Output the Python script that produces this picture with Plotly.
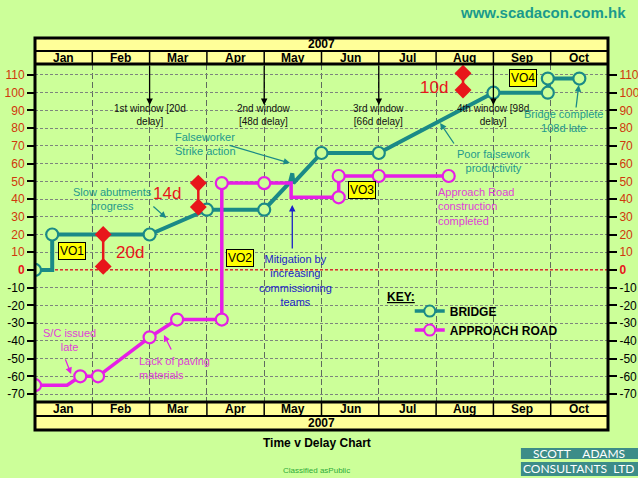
import plotly.graph_objects as go

# Categories / ticks
months = ["Jan", "Feb", "Mar", "Apr", "May", "Jun", "Jul", "Aug", "Sep", "Oct"]
year_label = "2007"
delay_ticks = list(range(-70, 111, 10))

# Bridge delay path (x = months from 1 Jan, y = days of delay), 1 = ringed point
bridge_x = [0, 0.3, 0.3, 2.0, 3.0, 4.0, 4.45, 4.49, 4.51, 5.0, 6.0, 8.0, 8.95, 8.95, 9.5]
bridge_y = [0, 0, 20, 20, 34, 34, 49.5, 54.5, 49, 66, 66, 100, 100, 108, 108]
bridge_ring = [1, 0, 1, 1, 1, 1, 0, 0, 0, 1, 1, 1, 1, 1, 1]

# Approach road delay path
road_x = [0, 0.56, 0.79, 1.1, 2.0, 2.48, 3.26, 3.26, 4.0, 4.47, 4.47, 5.3, 5.3, 6.0, 7.22]
road_y = [-65, -65, -60, -60, -38, -28, -28, 49, 49, 49, 41, 41, 53, 53, 53]
road_ring = [1, 0, 1, 1, 1, 1, 1, 1, 1, 0, 0, 1, 1, 1, 1]

# Delay gaps (red diamonds)
gap_x = [1.19, 2.85, 7.47]
gap_top = [20, 49, 111]
gap_bottom = [2, 35.5, 101.5]
gap_labels = ["20d", "14d", "10d"]

# Access windows
window_x = [2, 4, 6, 8]
window_labels = ["1st window [20d<br>delay]", "2nd window<br>[48d delay]",
                 "3rd window<br>[66d delay]", "4th window [98d<br>delay]"]

vo_labels = ["VO1", "VO2", "VO3", "VO4"]

BG = "#ccff99"
HEAD = "#ffff99"
TEAL = "#1a8a87"
TEAL_TXT = "#1f9a8c"
MAG = "#e61ee6"
MAG_TXT = "#e040d8"
RED = "#e8161b"
BLUE = "#1a22c8"
FONT = "Liberation Sans, Arial, sans-serif"

fig = go.Figure()

# series lines
fig.add_trace(go.Scatter(x=bridge_x, y=bridge_y, mode="lines", line=dict(color=TEAL, width=4),
                         showlegend=False, hoverinfo="skip"))
fig.add_trace(go.Scatter(x=road_x, y=road_y, mode="lines", line=dict(color=MAG, width=3.5),
                         showlegend=False, hoverinfo="skip"))

# ringed points
for xs, ys, flags, col in [(bridge_x, bridge_y, bridge_ring, TEAL), (road_x, road_y, road_ring, MAG)]:
    fig.add_trace(go.Scatter(
        x=[x for x, f in zip(xs, flags) if f], y=[y for y, f in zip(ys, flags) if f],
        mode="markers", marker=dict(symbol="circle", size=12, color=BG, line=dict(color=col, width=2.2)),
        showlegend=False, hoverinfo="skip"))

# delay gaps
dx, dy = [], []
for x, t, b in zip(gap_x, gap_top, gap_bottom):
    dx += [x, x, None]
    dy += [t, b, None]
fig.add_trace(go.Scatter(x=dx, y=dy, mode="lines+markers", line=dict(color=RED, width=2.5),
                         marker=dict(symbol="diamond", size=13, color=RED),
                         showlegend=False, hoverinfo="skip"))

# legend entries (key)
fig.add_trace(go.Scatter(x=[None], y=[None], mode="lines+markers", name="BRIDGE",
                         line=dict(color=TEAL, width=3.5),
                         marker=dict(size=11, color=BG, line=dict(color=TEAL, width=2))))
fig.add_trace(go.Scatter(x=[None], y=[None], mode="lines+markers", name="APPROACH ROAD",
                         line=dict(color=MAG, width=3.5),
                         marker=dict(size=11, color=BG, line=dict(color=MAG, width=2))))
# right axis carrier
fig.add_trace(go.Scatter(x=[None], y=[None], yaxis="y2", showlegend=False, hoverinfo="skip"))


def tick_text(v):
    if v > 0:
        return f'<span style="color:#d0380c">{v}</span>'
    if v == 0:
        return f'<b><span style="color:{RED}">0</span></b>'
    return str(v)


ticktext = [tick_text(v) for v in delay_ticks]
yrange = [-74.5, 116.2]

ann = []


def note(text, x, y, color="black", size=10, **kw):
    d = dict(text=text, x=x, y=y, xref="x", yref="y", showarrow=False,
             font=dict(color=color, size=size, family=FONT))
    d.update(kw)
    ann.append(d)


def paper_note(text, x, y, color="black", size=12, family=FONT, xref="paper"):
    ann.append(dict(text=text, x=x, y=y, xref=xref, yref="paper", showarrow=False,
                    xanchor="center", yanchor="middle",
                    font=dict(color=color, size=size, family=family)))


def arrow(x0, y0, x1, y1, color):
    ann.append(dict(text="", x=x1, y=y1, ax=x0, ay=y0, xref="x", yref="y", axref="x", ayref="y",
                    showarrow=True, arrowhead=2, arrowsize=1, arrowwidth=1.3, arrowcolor=color))


# windows
for wx, wl in zip(window_x, window_labels):
    arrow(wx, 116, wx, 93, "black")
    note(wl, wx, 87.5, "#111111", 10)

# gap labels
for lbl, (lx, ly) in zip(gap_labels, [(1.66, 10), (2.30, 43), (6.96, 103)]):
    note(lbl, lx, ly, RED, 17)

# VO boxes
for lbl, (vx, vy) in zip(vo_labels, [(0.65, 10.7), (3.58, 6.7), (5.71, 45), (8.52, 108.3)]):
    note(lbl, vx, vy, "black", 12, bgcolor="#ffff00", bordercolor="black", borderwidth=1, borderpad=1)

# commentary
note("Falseworker<br>Strike action", 2.41, 70.8, TEAL_TXT, 11, xanchor="left", align="left")
arrow(3.37, 70.5, 4.45, 60.3, TEAL)
note("Slow abutments<br>progress", 1.36, 40, TEAL_TXT, 11)
arrow(2.04, 36.6, 2.29, 29.3, TEAL)
note("Poor falsework<br>productivity", 8.01, 61.4, TEAL_TXT, 11)
arrow(7.33, 70.5, 7.07, 82.9, TEAL)
note("Bridge complete<br>108d late", 9.23, 83.8, TEAL_TXT, 11)
arrow(9.44, 90.8, 9.49, 104.3, TEAL)
note("Approach Road<br>construction<br>completed", 7.0, 36, MAG_TXT, 11, xanchor="left", align="left")
note("S/C issued<br>late", 0.61, -39.4, MAG_TXT, 11)
arrow(0.52, -49.6, 0.63, -58.7, MAG)
note("Lack of paving<br>materials", 1.78, -55.3, MAG_TXT, 11, xanchor="left", align="left")
arrow(2.39, -45.7, 2.25, -36.7, MAG)
note("Mitigation by<br>increasing<br>commissioning<br>teams", 4.55, -6.2, BLUE, 11)
arrow(4.49, 11.2, 4.49, 36.6, BLUE)
note("<u><b>KEY:</b></u>", 6.1, -15.5, "black", 12, xanchor="left")

shapes = []
# zero line
shapes.append(dict(type="line", xref="x", yref="y", x0=0, x1=10, y0=0, y1=0, layer="between",
                   line=dict(color=RED, width=1.2, dash="3px,2px")))

# header / footer bands (paper coords)
top_year, top_month, bot_month, bot_year = (1.0385, 1.0769), (1.0, 1.0385), (-0.0414, 0.0), (-0.0828, -0.0414)
for y0, y1 in [top_year, top_month, bot_month, bot_year]:
    shapes.append(dict(type="rect", xref="paper", yref="paper", x0=0, x1=1, y0=y0, y1=y1,
                       fillcolor=HEAD, line=dict(width=0)))
for y, w in [(1.0385, 2), (1.0, 3), (0.0, 3), (-0.0414, 2)]:
    shapes.append(dict(type="line", xref="paper", yref="paper", x0=0, x1=1, y0=y, y1=y,
                       line=dict(color="black", width=w)))
for m in range(1, len(months)):
    for y0, y1 in [top_month, bot_month]:
        shapes.append(dict(type="line", xref="x", yref="paper", x0=m, x1=m, y0=y0, y1=y1,
                           line=dict(color="black", width=1.5)))
shapes.append(dict(type="rect", xref="paper", yref="paper", x0=0, x1=1, y0=-0.0828, y1=1.0769,
                   line=dict(color="black", width=3)))

for i, mth in enumerate(months):
    for yc in (1.0192, -0.0207):
        paper_note(f"<b>{mth}</b>", i + 0.5, yc, xref="x")
for yc in (1.0577, -0.0621):
    paper_note(f"<b>{year_label}</b>", 0.5, yc)

# page furniture
paper_note("<b>www.scadacon.com.hk</b>", 0.8866, 1.151, "#1a9a8c", 15)
paper_note("<b>Time v Delay Chart</b>", 0.492, -0.1213, "black", 12)
paper_note("Classified asPublic", 0.492, -0.2012, "#2eaa3a", 8)
for (y0, y1), txt in [((-0.1686, -0.1361), "SCOTT    ADAMS"), ((-0.2189, -0.1775), "CONSULTANTS  LTD")]:
    shapes.append(dict(type="rect", xref="paper", yref="paper", x0=0.848, x1=1.06, y0=y0, y1=y1,
                       fillcolor="#3c8c88", line=dict(width=0)))
    paper_note(txt, 0.949, (y0 + y1) / 2, "white", 12, "Lato, sans-serif")

fig.update_layout(
    template="none",
    width=638, height=478,
    margin=dict(l=35, r=30, t=64, b=76),
    paper_bgcolor=BG, plot_bgcolor=BG,
    font=dict(family=FONT, size=11, color="black"),
    xaxis=dict(range=[0, 10], tickvals=list(range(1, 10)), showticklabels=False, ticks="",
               showgrid=True, gridcolor="#5f6b5f", griddash="6px,3px", gridwidth=1,
               zeroline=False, showline=False, automargin=False),
    yaxis=dict(range=yrange, tickvals=delay_ticks, ticktext=ticktext, ticks="outside", ticklen=7,
               tickwidth=2, tickcolor="black", tickfont=dict(size=12, color="black"),
               showgrid=True, gridcolor="#7d857d", griddash="3px,2px", gridwidth=1,
               zeroline=False, showline=False, automargin=False),
    yaxis2=dict(range=yrange, overlaying="y", side="right", tickvals=delay_ticks, ticktext=ticktext,
                ticks="outside", ticklen=8, tickwidth=2, tickcolor="black",
                tickfont=dict(size=12, color="black"), showgrid=False, zeroline=False,
                showline=False, automargin=False),
    showlegend=True,
    legend=dict(x=0.654, y=0.312, xanchor="left", yanchor="top", bgcolor="rgba(0,0,0,0)",
                font=dict(size=12, color="black", family=FONT, weight="bold"), itemwidth=30,
                tracegroupgap=0),
    shapes=shapes,
    annotations=ann,
)

# drop the browser's default page margin so the figure sits at the window's corner
fig.write_html("out.html", config={"displayModeBar": False},
               post_script="document.body.style.margin='0';document.body.style.background='%s';" % BG)
